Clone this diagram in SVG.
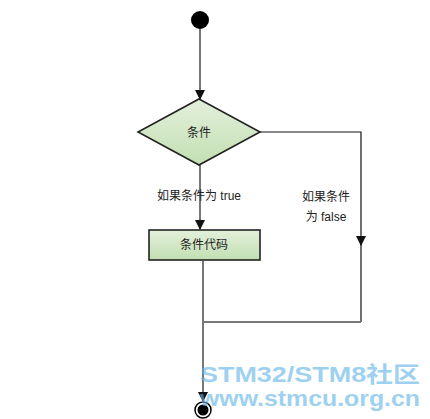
<svg xmlns="http://www.w3.org/2000/svg" width="430" height="419" viewBox="0 0 430 419">
<style>
.lbl{font-family:"Liberation Sans","Noto Sans CJK SC",sans-serif;font-size:12px;fill:#222}
.node{stroke:#222;stroke-width:1.6}
.gray{stroke:#777;stroke-width:2;fill:none}
.thin{stroke:#111;stroke-width:1.2;fill:none}
.wm{font-family:"Liberation Sans","Noto Sans CJK SC",sans-serif;font-weight:bold;fill:#5fb3e6;opacity:0.6}
</style>
<defs>
<linearGradient id="g" x1="0" y1="0" x2="0" y2="1">
<stop offset="0" stop-color="#e3f0db"/>
<stop offset="1" stop-color="#c2dfb2"/>
</linearGradient>
<marker id="arr" markerWidth="10" markerHeight="10" refX="9" refY="5" orient="auto" markerUnits="userSpaceOnUse">
<path d="M0,0 L10,5 L0,10 z" fill="#111"/>
</marker>
</defs>
<rect width="430" height="419" fill="#fff"/>
<g id="connectors">
<path class="gray" d="M200,29 V99" marker-end="url(#arr)"/>
<path class="gray" d="M200,165 V229" marker-end="url(#arr)"/>
<path class="thin" d="M260,132 H361 V245" marker-end="url(#arr)"/>
<path class="thin" d="M361,240 V322"/>
<path class="gray" d="M361,322 H203"/>
<path class="gray" d="M203,261 V401" marker-end="url(#arr)"/>
</g>
<g id="start"><circle cx="200" cy="20" r="9" fill="#000"/></g>
<g id="condition">
<polygon class="node" points="199,99 260,132 199,165 138,132" fill="url(#g)"/>
<text class="lbl" x="199" y="137" text-anchor="middle">条件</text>
</g>
<g id="label-true"><text class="lbl" x="199" y="200" text-anchor="middle">如果条件为 true</text></g>
<g id="label-false">
<text class="lbl" x="326" y="201" text-anchor="middle">如果条件</text>
<text class="lbl" x="326" y="221" text-anchor="middle">为 false</text>
</g>
<g id="code">
<rect class="node" x="149" y="230" width="111" height="30" fill="url(#g)"/>
<text class="lbl" x="204" y="249" text-anchor="middle">条件代码</text>
</g>
<g id="end">
<circle cx="203" cy="410" r="8" fill="#fff" stroke="#000" stroke-width="1.5"/>
<circle cx="203" cy="410" r="5.5" fill="#000"/>
</g>
<g id="watermark">
<text class="wm" x="200" y="382" font-size="22" textLength="220" lengthAdjust="spacingAndGlyphs">STM32/STM8社区</text>
<text class="wm" x="200" y="406" font-size="22" textLength="220" lengthAdjust="spacingAndGlyphs">www.stmcu.org.cn</text>
</g>
</svg>
